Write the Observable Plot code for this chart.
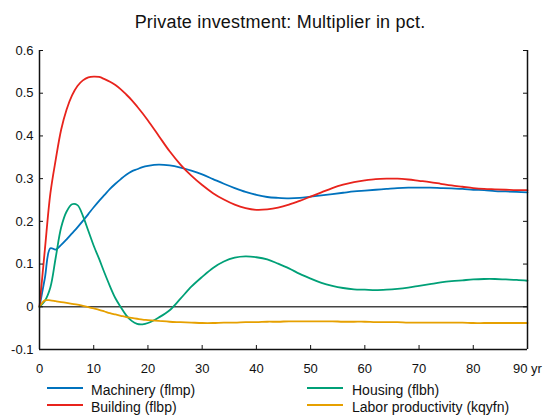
<!DOCTYPE html>
<html><head><meta charset="utf-8">
<script src="https://cdn.jsdelivr.net/npm/d3@7"></script>
<script src="https://cdn.jsdelivr.net/npm/@observablehq/plot@0.6"></script>
<style>
body{margin:0;background:#fff;font-family:"Liberation Sans",Arial,sans-serif;}
#wrap{width:545px;height:420px;position:relative;overflow:hidden;background:#fff}
#title{position:absolute;left:15px;width:530px;top:13px;font-size:18px;line-height:18px;text-align:center;color:#111;letter-spacing:0.2px}
#chart{position:absolute;left:0;top:38px}
#legend{position:absolute;left:0;top:377px;width:545px;height:43px}
.sw{position:absolute;width:36px;height:2px}
.lb{position:absolute;font-size:14px;line-height:14px;white-space:nowrap;color:#111}
</style></head><body>
<div id="wrap"><div id="title">Private investment: Multiplier in pct.</div><div id="chart"></div><div id="legend"></div></div>
<script>
const titleText = "Private investment: Multiplier in pct.";
const seriesNames = ["Machinery (flmp)", "Building (flbp)", "Housing (flbh)", "Labor productivity (kqyfn)"];
const seriesColors = ["#0072BD", "#E8231C", "#00A077", "#E6A000"];

const years = [0,1,2,3,4,5,6,7,8,9,10,11,12,13,14,15,16,17,18,19,20,
  22,24,26,28,30,32,34,36,38,40,42,44,46,48,50,52,54,56,58,60,62,64,66,68,70,72,74,76,78,80,82,84,86,88,90];

const machinery = [0,0.068,0.137,0.134,0.145,0.158,0.172,0.186,0.201,0.217,0.233,0.248,0.262,0.276,0.288,0.299,0.309,0.317,0.322,0.327,0.330,
  0.333,0.331,0.326,0.319,0.310,0.299,0.288,0.278,0.269,0.262,0.257,0.255,0.254,0.255,0.258,0.261,0.264,0.267,0.270,0.272,0.274,0.276,0.278,0.279,0.279,0.279,0.278,0.277,0.276,0.274,0.273,0.271,0.270,0.269,0.268];

const building = [0,0.135,0.265,0.345,0.415,0.462,0.495,0.517,0.530,0.537,0.539,0.538,0.533,0.527,0.519,0.509,0.497,0.484,0.469,0.453,0.436,
  0.400,0.364,0.333,0.307,0.285,0.266,0.251,0.239,0.231,0.227,0.228,0.232,0.239,0.248,0.258,0.268,0.278,0.286,0.292,0.296,0.299,0.300,0.300,0.298,0.295,0.292,0.288,0.284,0.281,0.278,0.276,0.275,0.274,0.273,0.273];

const housing = [0,0.014,0.045,0.116,0.186,0.223,0.240,0.238,0.213,0.178,0.143,0.112,0.079,0.048,0.020,-0.001,-0.020,-0.033,-0.040,-0.041,-0.038,
  -0.025,-0.008,0.019,0.047,0.070,0.091,0.106,0.115,0.118,0.116,0.111,0.101,0.090,0.077,0.066,0.056,0.049,0.044,0.041,0.040,0.039,0.040,0.042,0.045,0.049,0.053,0.057,0.060,0.062,0.064,0.065,0.065,0.064,0.063,0.061];

const laborProd = [0,0.015,0.015,0.013,0.011,0.009,0.007,0.005,0.002,-0.001,-0.004,-0.007,-0.011,-0.015,-0.018,-0.021,-0.024,-0.026,-0.028,-0.030,-0.031,
  -0.033,-0.035,-0.036,-0.037,-0.038,-0.038,-0.037,-0.037,-0.036,-0.036,-0.035,-0.035,-0.034,-0.034,-0.034,-0.034,-0.034,-0.035,-0.035,-0.035,-0.036,-0.036,-0.036,-0.037,-0.037,-0.037,-0.037,-0.037,-0.037,-0.038,-0.038,-0.038,-0.038,-0.038,-0.038];

const xTicks = [0,10,20,30,40,50,60,70,80,90];
const xTickLabels = ["0","10","20","30","40","50","60","70","80","90 yr"];
const yTicks = [-0.1,0,0.1,0.2,0.3,0.4,0.5,0.6];
const yTickLabels = ["-0.1","0","0.1","0.2","0.3","0.4","0.5","0.6"];

const seriesValues = [machinery, building, housing, laborProd];
const rows = [];
seriesValues.forEach((vals, s) => {
  vals.forEach((v, i) => rows.push({series: seriesNames[s], year: years[i], value: v}));
});

const W = 545, H = 339, mL = 39, mR = 18, mT = 12, mB = 28;
const pw = W - mL - mR, ph = H - mT - mB;

const chart = Plot.plot({
  width: W, height: H,
  marginLeft: mL, marginRight: mR, marginTop: mT, marginBottom: mB,
  style: {fontSize: "13px", fontFamily: "Liberation Sans, Arial, sans-serif", color: "#111", background: "#fff", overflow: "visible"},
  x: {domain: [0, 90]},
  y: {domain: [-0.1, 0.6]},
  color: {domain: seriesNames, range: seriesColors},
  marks: [
    Plot.ruleY([0], {stroke: "#444", strokeWidth: 1.5}),
    Plot.line(rows, {x: "year", y: "value", z: "series", stroke: "series", strokeWidth: 1.8, curve: "catmull-rom"}),
    Plot.ruleX([0, 90], {stroke: "#111", strokeWidth: 1.5}),
    Plot.ruleY([-0.1], {stroke: "#111", strokeWidth: 1.5}),
    Plot.tickY(yTicks, {y: d => d, insetRight: pw - 4, stroke: "#111"}),
    Plot.tickY(yTicks, {y: d => d, insetLeft: pw - 4, stroke: "#111"}),
    Plot.tickX(xTicks, {x: d => d, insetTop: ph - 4, stroke: "#111"}),
    Plot.axisY(yTicks, {tickSize: 0, tickPadding: 6, tickFormat: d => yTickLabels[yTicks.indexOf(d)], label: null}),
    Plot.axisX(xTicks, {tickSize: 0, tickPadding: 14.5, tickFormat: d => xTickLabels[xTicks.indexOf(d)], label: null})
  ]
});
document.getElementById("chart").appendChild(chart);

const legend = document.getElementById("legend");
const swX = [47, 307], txX = [91, 352], swY = [10, 27], txY = [5.5, 22.8];
seriesNames.forEach((name, i) => {
  const col = Math.floor(i / 2), row = i % 2;
  const sw = document.createElement("div");
  sw.className = "sw";
  sw.style.left = swX[col] + "px";
  sw.style.top = swY[row] + "px";
  sw.style.background = seriesColors[i];
  legend.appendChild(sw);
  const lb = document.createElement("div");
  lb.className = "lb";
  lb.style.left = txX[col] + "px";
  lb.style.top = txY[row] + "px";
  lb.textContent = name;
  legend.appendChild(lb);
});
</script>
</body></html>
